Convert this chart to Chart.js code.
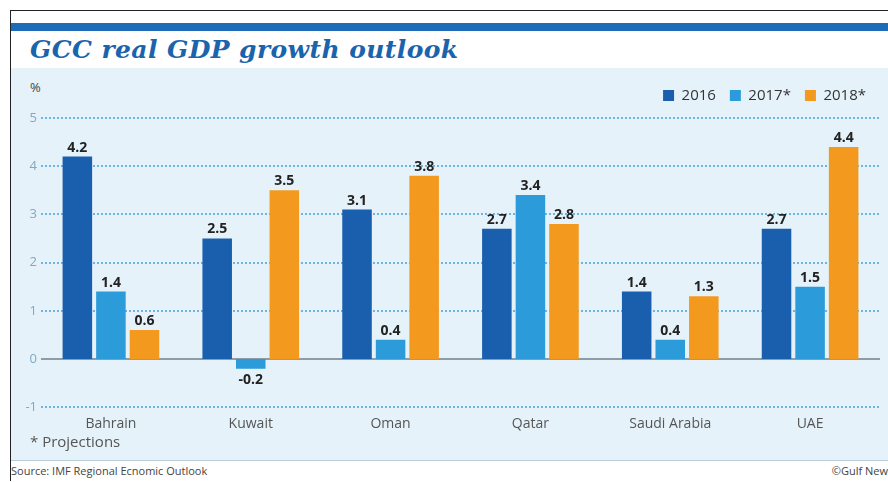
<!DOCTYPE html>
<html>
<head>
<meta charset="utf-8">
<script src="https://cdn.jsdelivr.net/npm/chart.js@4/dist/chart.umd.min.js"></script>
<style>
  body { margin: 0; background: #fff; width: 888px; height: 482px; overflow: hidden; position: relative; font-family: "Open Sans", sans-serif; }
  #frame { position: absolute; left: 10px; top: 10px; width: 890px; height: 470px; border-left: 1.5px solid #222; border-top: 1.5px solid #222; }
  #band { position: absolute; left: 11px; top: 23px; width: 877px; height: 8px; background: #1e6bb8; }
  #title { position: absolute; left: 30px; top: 35px; font-family: "DejaVu Serif", serif; font-weight: bold; font-style: italic; font-size: 25px; color: #1a63ad; letter-spacing: 0.4px; }
  #panel { position: absolute; left: 11px; top: 68px; width: 877px; height: 392px; background: #e5f2fa; border-bottom: 1px solid #b9cfdc; }
  #pct { position: absolute; left: 30px; top: 78px; font-size: 13px; color: #444; }
  #proj { position: absolute; left: 30px; top: 431px; font-size: 15px; color: #555; }
  #source { position: absolute; left: 11px; top: 463px; font-size: 11px; color: #444; }
  #credit { position: absolute; right: 0px; top: 463px; font-size: 11px; color: #444; }
  #wrap { position: absolute; left: 11px; top: 74px; width: 877px; height: 358px; }
</style>
</head>
<body>
<div id="frame"></div>
<div id="band"></div>
<div id="title">GCC real GDP growth outlook</div>
<div id="panel"></div>
<div id="pct">%</div>
<div id="wrap"><canvas id="chart"></canvas></div>
<div id="proj">* Projections</div>
<div id="source">Source: IMF Regional Ecnomic Outlook</div>
<div id="credit">©Gulf New</div>
<script>
const categories = ["Bahrain", "Kuwait", "Oman", "Qatar", "Saudi Arabia", "UAE"];
const seriesLabels = ["2016", "2017*", "2018*"];
const values2016 = [4.2, 2.5, 3.1, 2.7, 1.4, 2.7];
const values2017 = [1.4, -0.2, 0.4, 3.4, 0.4, 1.5];
const values2018 = [0.6, 3.5, 3.8, 2.8, 1.3, 4.4];
const seriesColors = ["#1a5fad", "#2b9bd9", "#f39a1e"];

const valueLabels = {
  id: "valueLabels",
  afterDatasetsDraw(chart) {
    const ctx = chart.ctx;
    ctx.save();
    ctx.font = "bold 14px 'Open Sans', sans-serif";
    ctx.fillStyle = "#222";
    ctx.textAlign = "center";
    chart.data.datasets.forEach((ds, i) => {
      chart.getDatasetMeta(i).data.forEach((bar, j) => {
        const v = ds.data[j];
        if (v < 0) {
          ctx.textBaseline = "top";
          ctx.fillText(v.toFixed(1), bar.x, bar.y + 4);
        } else {
          ctx.textBaseline = "bottom";
          ctx.fillText(v.toFixed(1), bar.x, bar.y - 2);
        }
      });
    });
    ctx.restore();
  },
};

// dotted grid lines with a solid zero line, drawn under the bars
const gridLines = {
  id: "gridLines",
  beforeDatasetsDraw(chart) {
    const { ctx, chartArea, scales } = chart;
    const yScale = scales.y;
    ctx.save();
    yScale.ticks.forEach((t) => {
      const y = Math.round(yScale.getPixelForValue(t.value));
      const zero = t.value === 0;
      ctx.strokeStyle = zero ? "#6f7f8a" : "#3d9bd5";
      ctx.lineWidth = zero ? 1.5 : 1.4;
      ctx.setLineDash(zero ? [] : [2, 2]);
      ctx.beginPath();
      ctx.moveTo(chartArea.left, y);
      ctx.lineTo(chartArea.right, y);
      ctx.stroke();
    });
    ctx.restore();
  },
};

const legendGap = {
  id: "legendGap",
  beforeInit(chart) {
    const fit = chart.legend.fit;
    chart.legend.fit = function () {
      fit.bind(chart.legend)();
      this.height += 5;
    };
  },
};

new Chart(document.getElementById("chart"), {
  type: "bar",
  data: {
    labels: categories,
    datasets: [values2016, values2017, values2018].map((d, i) => ({
      label: seriesLabels[i],
      data: d,
      backgroundColor: seriesColors[i],
      categoryPercentage: 0.72,
      barPercentage: 0.88,
    })),
  },
  options: {
    animation: false,
    responsive: true,
    maintainAspectRatio: false,
    layout: { padding: { left: 0, right: 8, top: 0, bottom: 0 } },
    plugins: {
      legend: {
        position: "top",
        align: "end",
        labels: {
          boxWidth: 11,
          boxHeight: 11,
          padding: 14,
          color: "#333",
          font: { size: 15, family: "'Open Sans', sans-serif" },
        },
      },
      tooltip: { enabled: false },
    },
    scales: {
      x: {
        grid: { display: false },
        border: { display: false },
        ticks: { color: "#555", padding: 0, font: { size: 14, family: "'Open Sans', sans-serif" } },
      },
      y: {
        min: -1,
        max: 5,
        ticks: { stepSize: 1, color: "#7fa9c4", padding: 4, font: { size: 13, family: "'Open Sans', sans-serif" } },
        border: { display: false },
        grid: { display: false, drawTicks: false },
        afterFit: (s) => { s.width = 30; },
      },
    },
  },
  plugins: [valueLabels, gridLines, legendGap],
});
</script>
</body>
</html>
